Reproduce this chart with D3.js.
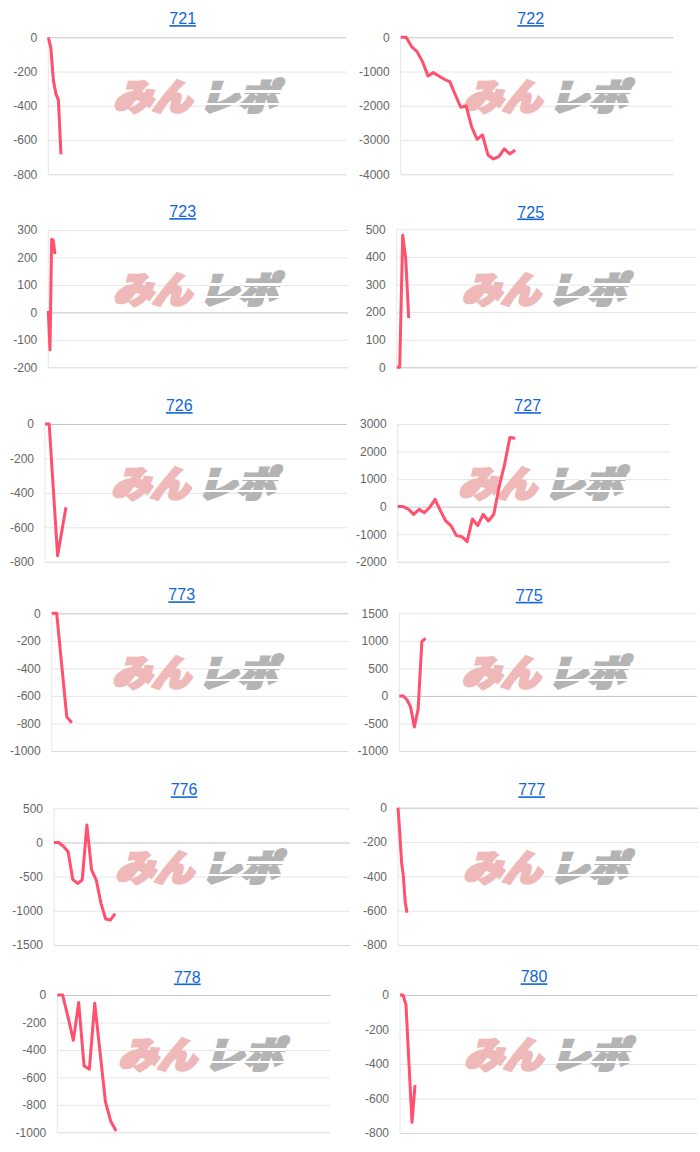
<!DOCTYPE html>
<html><head><meta charset="utf-8">
<script src="https://cdn.jsdelivr.net/npm/d3@7"></script>
<style>html,body{margin:0;padding:0;background:#fff;} svg{display:block}</style>
</head><body>
<svg id="c" width="700" height="1152"></svg>
<script>
// ---------- data ----------
const titles = ["721","722","723","725","726","727","773","775","776","777","778","780"];

const vals721 = [0,-60,-250,-330,-365,-683];
const vals722 = [0,0,-272,-418,-710,-1129,-1031,-1129,-1226,-1294,-1670,-2043,-2004,-2608,-2977,-2851,-3435,-3551,-3483,-3260,-3406,-3289];
const vals723 = [5,-137,266,262,212];
const vals725 = [0,0,478,395,178];
const vals726 = [0,0,-382,-765,-624,-484];
const vals727 = [0,0,-90,-280,-100,-220,-25,265,-145,-520,-700,-1053,-1090,-1271,-448,-690,-278,-520,-278,726,1513,2506,2482];
const vals773 = [0,0,-380,-752,-795];
const vals775 = [0,0,-65,-200,-565,-240,990,1045];
const vals776 = [0,0,-55,-135,-540,-600,-550,255,-400,-550,-890,-1120,-1135,-1040];
const vals777 = [0,-150,-320,-400,-550,-612];
const vals778 = [0,0,-160,-330,-55,-515,-540,-60,-418,-777,-920,-990];
const vals780 = [0,0,-58,-400,-738,-523];
const seriesList = [vals721,vals722,vals723,vals725,vals726,vals727,vals773,vals775,vals776,vals777,vals778,vals780];

const ticks721 = [0,-200,-400,-600,-800];
const ticks722 = [0,-1000,-2000,-3000,-4000];
const ticks723 = [300,200,100,0,-100,-200];
const ticks725 = [500,400,300,200,100,0];
const ticks726 = [0,-200,-400,-600,-800];
const ticks727 = [3000,2000,1000,0,-1000,-2000];
const ticks773 = [0,-200,-400,-600,-800,-1000];
const ticks775 = [1500,1000,500,0,-500,-1000];
const ticks776 = [500,0,-500,-1000,-1500];
const ticks777 = [0,-200,-400,-600,-800];
const ticks778 = [0,-200,-400,-600,-800,-1000];
const ticks780 = [0,-200,-400,-600,-800];
const tickList = [ticks721,ticks722,ticks723,ticks725,ticks726,ticks727,ticks773,ticks775,ticks776,ticks777,ticks778,ticks780];

// number of x categories per chart
const xCounts = [119,51,181,101,73,52,60,80,64,168,52,100];

// ---------- layout (pixels) ----------
const layout = [
  {x0:48.3, x1:346.7, yT:37.3,  yB:174.3, tx:182.7, ty:18.3,  wx:199, wy:97},
  {x0:400.7,x1:673.3, yT:37.3,  yB:174.3, tx:530.7, ty:18.3,  wx:549, wy:97},
  {x0:48.3, x1:348.3, yT:230,   yB:367.3, tx:182.7, ty:211.3, wx:199, wy:290},
  {x0:396.7,x1:696.7, yT:229.3, yB:367.3, tx:530.7, ty:211.7, wx:547.5, wy:290},
  {x0:45,   x1:346.7, yT:424,   yB:561.7, tx:179.3, ty:405.3, wx:197, wy:484},
  {x0:397.7,x1:670,   yT:424,   yB:561.7, tx:527.7, ty:405.3, wx:544, wy:484},
  {x0:51.7, x1:348.3, yT:613.3, yB:751,   tx:181.7, ty:594.5, wx:198, wy:673},
  {x0:399.3,x1:696.7, yT:613.3, yB:751,   tx:529.3, ty:595,   wx:547.5, wy:673},
  {x0:54,   x1:350,   yT:808.3, yB:945,   tx:184,   ty:789.5, wx:201, wy:868},
  {x0:398,  x1:698.3, yT:807.7, yB:945,   tx:531.7, ty:789.5, wx:549, wy:868},
  {x0:57.3, x1:330,   yT:995,   yB:1132.3,tx:187.3, ty:976.7, wx:204, wy:1055},
  {x0:400,  x1:697,   yT:995,   yB:1133,  tx:534,   ty:976.5, wx:550, wy:1055}
];

const LINE = "rgb(255,80,110)";
const GRID = "#e6e6e6";
const ZERO = "#c4c4c4";
const LABEL = "#666";
const FONT = "'Liberation Sans', Arial, Helvetica, sans-serif";

const svg = d3.select("#c");

// stripe gradient for the grey part of the watermark
const defs = svg.append("defs");
const grad = defs.append("linearGradient").attr("id","stripe")
  .attr("gradientUnits","objectBoundingBox").attr("x1",0).attr("y1",0).attr("x2",0).attr("y2",1);
[[0,"#b4b4b4"],[0.42,"#b4b4b4"],[0.42,"#ffffff"],[0.47,"#ffffff"],[0.47,"#b4b4b4"],[0.66,"#b4b4b4"],[0.66,"#ffffff"],[0.70,"#ffffff"],[0.70,"#b4b4b4"],[1,"#b4b4b4"]]
  .forEach(s => grad.append("stop").attr("offset", s[0]).attr("stop-color", s[1]));

function watermark(g, cx, cy) {
  const w = g.append("g").attr("transform", `translate(${cx},${cy}) skewX(-16)`);
  w.append("text").attr("x", -82).attr("y", 13)
    .attr("textLength", 78).attr("lengthAdjust", "spacingAndGlyphs")
    .attr("font-family", "'Noto Sans CJK JP'").attr("font-weight", 900).attr("font-size", 36)
    .attr("fill", "#efb9b9").attr("stroke", "#efb9b9").attr("stroke-width", 3.2)
    .attr("stroke-linejoin", "miter").text("みん");
  w.append("text").attr("x", 4).attr("y", 13)
    .attr("textLength", 78).attr("lengthAdjust", "spacingAndGlyphs")
    .attr("font-family", "'Noto Sans CJK JP'").attr("font-weight", 900).attr("font-size", 36)
    .attr("fill", "url(#stripe)").attr("stroke", "url(#stripe)").attr("stroke-width", 3.2)
    .attr("stroke-linejoin", "miter").text("レポ");
}

titles.forEach((t, i) => {
  const L = layout[i];
  const vals = seriesList[i];
  const ticks = tickList[i];
  const g = svg.append("g");

  const y = d3.scaleLinear().domain([d3.min(ticks), d3.max(ticks)]).range([L.yB, L.yT]);
  const x = d3.scaleLinear().domain([0, xCounts[i] - 1]).range([L.x0, L.x1]);

  // axis with gridlines
  const ax = g.append("g").attr("transform", `translate(${L.x0},0)`)
    .call(d3.axisLeft(y).tickValues(ticks).tickSize(-(L.x1 - L.x0)).tickPadding(11).tickFormat(d => String(d)));
  ax.select(".domain").remove();
  ax.selectAll(".tick line").attr("stroke", d => d === 0 ? ZERO : (d === d3.min(ticks) ? "#d9d9d9" : GRID)).attr("stroke-width", 1);
  ax.selectAll(".tick text").attr("fill", LABEL).attr("font-size", 12).attr("font-family", FONT);

  // left axis line
  g.append("line").attr("x1", L.x0).attr("x2", L.x0).attr("y1", L.yT).attr("y2", L.yB)
    .attr("stroke", GRID).attr("stroke-width", 1);

  // title
  g.append("text").attr("x", L.tx).attr("y", L.ty + 5.8).attr("text-anchor", "middle")
    .attr("font-family", FONT).attr("font-size", 16).attr("fill", "#1366d6")
    .style("text-decoration", "underline").text(t);

  watermark(g, L.wx, L.wy);

  // data line
  const line = d3.line().x((d, k) => x(k)).y(d => y(d));
  g.append("path").datum(vals).attr("d", line)
    .attr("fill", "none").attr("stroke", LINE).attr("stroke-width", 3)
    .attr("stroke-linejoin", "round").attr("stroke-linecap", "butt");
});
</script>
</body></html>
